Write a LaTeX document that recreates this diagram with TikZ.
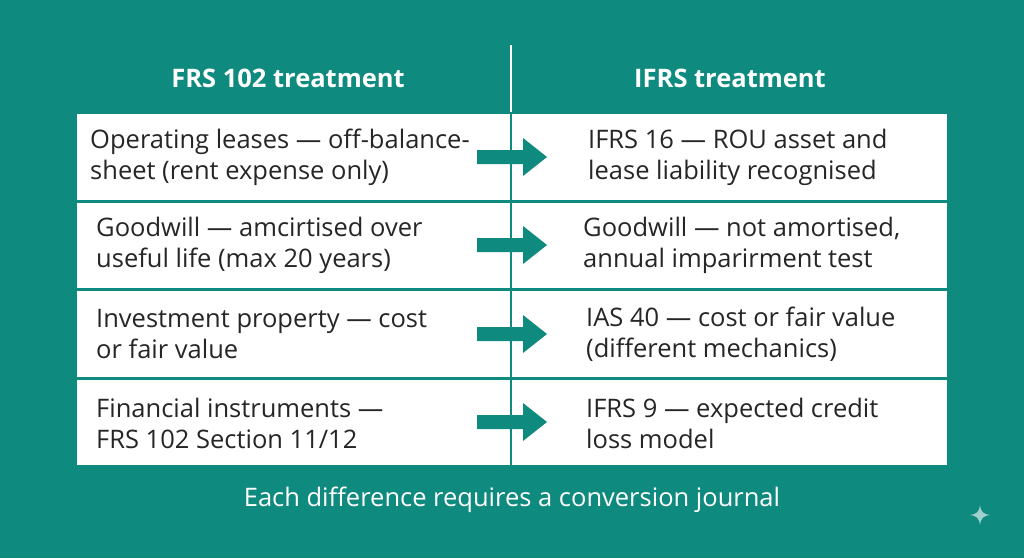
\documentclass[tikz,border=0pt]{standalone}
\usepackage{fontspec}
\setmainfont{Open Sans}
\definecolor{teal1}{HTML}{0F8A7E}
\begin{document}
\begin{tikzpicture}[x=1pt,y=-1pt,
 cell/.style={fill=white,draw=none},
 txt/.style={anchor=west,align=left,font=\fontsize{25.5}{31}\selectfont,text=black!85,inner sep=0},
 hdr/.style={font=\bfseries\fontsize{25.5}{30}\selectfont,text=white},
 arr/.style={fill=teal1,draw=none}]
\fill[teal1] (0,0) rectangle (1024,558);
\useasboundingbox (0,0) rectangle (1024,558);
\foreach \t/\b in {114/200,203/288,291/377,380/465}{
 \fill[white] (77,\t) rectangle (947,\b);
}
\draw[white,line width=2.5pt] (511,45) -- (511,112);
\draw[teal1,line width=2.5pt] (511,112) -- (511,466);
\node[hdr] (h1) at (288,78) {FRS 102 treatment};
\node[hdr] (h2) at (730,78) {IFRS treatment};
\node[txt] (l1) at (90,157) {Operating leases — off-balance-\\sheet (rent expense only)};
\node[txt] (r1) at (588,157) {IFRS 16 — ROU asset and\\lease liability recognised};
\node[txt] (l2) at (96,245) {Goodwill — amcirtised over\\useful life (max 20 years)};
\node[txt] (r2) at (583,245) {Goodwill — not amortised,\\annual imparirment test};
\node[txt] (l3) at (96,334) {Investment property — cost\\or fair value};
\node[txt] (r3) at (586,334) {IAS 40 — cost or fair value\\(different mechanics)};
\node[txt] (l4) at (96,423) {Financial instruments —\\FRS 102 Section 11/12};
\node[txt] (r4) at (586,423) {IFRS 9 — expected credit\\loss model};
\foreach \c in {157,245,334,422}{
 \fill[arr] (477,\c-7) -- (523,\c-7) -- (523,\c-19) -- (547,\c) -- (523,\c+19) -- (523,\c+7) -- (477,\c+7) -- cycle;
}
\node[font=\fontsize{25.5}{30}\selectfont,text=white] (f) at (512,500) {Each difference requires a conversion journal};
\fill[white!60!teal1] (980,505) .. controls (981,512) and (983,514) .. (990,515) .. controls (983,516) and (981,518) .. (980,525) .. controls (979,518) and (977,516) .. (970,515) .. controls (977,514) and (979,512) .. (980,505);
\end{tikzpicture}
\end{document}
